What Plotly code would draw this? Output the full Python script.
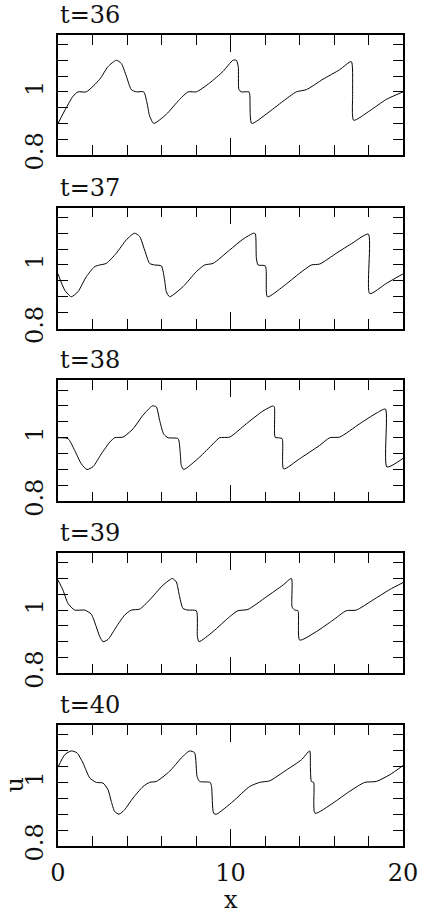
import plotly.graph_objects as go
from plotly.subplots import make_subplots

# snapshots of u(x), one pair of lists per time
times = [36, 37, 38, 39, 40]

x36 = [0, 0.48, 0.87, 1.16, 1.64, 2.42, 2.9, 3.38, 3.67, 3.96, 4.25, 4.54, 4.97, 5.16, 5.31, 5.55,
       6.28, 7.05, 7.54, 8.02, 8.79, 9.57, 10.14, 10.34, 10.45, 10.49, 10.63, 11.07, 11.12, 11.23,
       12.08, 13.04, 13.82, 14.4, 15.36, 16.33, 17.0, 17.08, 17.14, 18.07, 19.03, 20]
u36 = [0.9, 0.95, 0.986, 1.0, 1.0, 1.04, 1.08, 1.1, 1.09, 1.05, 1.007, 1.0, 1.0, 0.965, 0.924, 0.9,
       0.929, 0.976, 1.0, 1.0, 1.028, 1.065, 1.1, 1.1, 1.08, 1.007, 1.0, 1.0, 0.99, 0.9,
       0.93, 0.97, 1.0, 1.007, 1.04, 1.07, 1.096, 1.0, 0.91, 0.94, 0.976, 1.0]

x37 = [0, 0.39, 0.77, 1.16, 1.64, 2.13, 2.42, 2.8, 3.38, 3.96, 4.44, 4.73, 5.02, 5.31, 5.6, 5.99,
       6.18, 6.28, 6.47, 7.25, 8.02, 8.5, 8.99, 9.95, 10.72, 11.34, 11.44, 11.5, 11.6, 12.02, 12.14,
       13.04, 14.01, 14.69, 15.17, 16.14, 17.1, 17.99, 18.07, 19.03, 20]
u37 = [0.972, 0.921, 0.9, 0.916, 0.963, 0.995, 1.0, 1.005, 1.037, 1.079, 1.1, 1.09, 1.047, 1.005, 1.0, 0.997,
       0.953, 0.916, 0.9, 0.932, 0.979, 1.0, 1.005, 1.047, 1.081, 1.1, 1.098, 1.021, 1.0, 0.997, 0.9,
       0.932, 0.974, 1.0, 1.003, 1.037, 1.07, 1.097, 0.91, 0.942, 0.972]

x38 = [0, 0.58, 0.97, 1.35, 1.68, 2.03, 2.51, 3.0, 3.29, 3.77, 4.35, 4.93, 5.47, 5.7, 5.89, 6.13,
       6.38, 6.96, 7.09, 7.15, 7.29, 8.21, 8.99, 9.37, 9.95, 10.92, 11.88, 12.46, 12.54, 12.58, 12.7,
       12.99, 13.08, 14.01, 15.17, 15.75, 16.33, 17.49, 18.45, 18.98, 19.07, 20]
u38 = [1.0, 0.997, 0.96, 0.918, 0.9, 0.909, 0.949, 0.986, 1.0, 1.002, 1.028, 1.071, 1.1, 1.097, 1.055, 1.011,
       1.0, 0.997, 0.949, 0.912, 0.9, 0.939, 0.981, 1.0, 1.002, 1.044, 1.084, 1.1, 1.097, 1.002, 1.0,
       0.997, 0.902, 0.934, 0.976, 1.0, 1.002, 1.044, 1.077, 1.09, 0.908, 0.935]

x39 = [0, 0.29, 0.58, 0.97, 1.55, 1.93, 2.22, 2.42, 2.61, 2.9, 3.38, 3.86, 4.25, 4.73, 5.31, 6.09,
       6.63, 6.86, 7.05, 7.25, 7.54, 8.02, 8.08, 8.17, 8.99, 9.95, 10.43, 11.01, 12.08, 13.04, 13.53,
       13.57, 13.72, 13.91, 14.01, 14.98, 15.94, 16.71, 17.29, 18.26, 19.23, 20]
u39 = [1.095, 1.063, 1.021, 1.0, 1.0, 0.987, 0.947, 0.916, 0.9, 0.907, 0.947, 0.984, 1.0, 1.003, 1.032, 1.079,
       1.1, 1.089, 1.042, 1.005, 1.0, 0.998, 0.916, 0.9, 0.932, 0.979, 0.998, 1.002, 1.042, 1.079, 1.1,
       1.01, 1.0, 0.998, 0.905, 0.932, 0.968, 0.998, 1.0, 1.032, 1.065, 1.087]

x40 = [0, 0.39, 0.77, 1.1, 1.45, 1.84, 2.22, 2.61, 2.9, 3.09, 3.29, 3.54, 3.86, 4.35, 4.93, 5.31,
       5.7, 6.47, 7.15, 7.63, 7.92, 8.06, 8.21, 8.82, 8.9, 9.02, 9.18, 10.14, 11.11, 11.69, 12.27,
       13.24, 14.11, 14.59, 14.63, 14.69, 14.82, 14.9, 15.94, 16.91, 17.78, 18.45, 19.23, 20]
u40 = [1.048, 1.087, 1.099, 1.093, 1.061, 1.014, 1.0, 0.998, 0.977, 0.94, 0.908, 0.9, 0.914, 0.951, 0.987, 1.0,
       1.003, 1.035, 1.077, 1.099, 1.093, 1.019, 1.003, 1.0, 0.987, 0.903, 0.9, 0.94, 0.987, 1.0, 1.005,
       1.039, 1.071, 1.099, 1.05, 1.003, 1.0, 0.903, 0.935, 0.972, 1.0, 1.003, 1.024, 1.053]

xs = [x36, x37, x38, x39, x40]
us = [u36, u37, u38, u39, u40]

FONT = "DejaVu Serif"
TXT = dict(family=FONT, size=24, color='#111')

fig = make_subplots(rows=5, cols=1, shared_xaxes=False, vertical_spacing=0.064)

for i, (t, x, u) in enumerate(zip(times, xs, us)):
    fig.add_trace(go.Scatter(x=x, y=u, mode='lines',
                             line=dict(color='black', width=1, shape='spline', smoothing=0.6),
                             showlegend=False), row=i + 1, col=1)

domains = [(0.852, 1.0), (0.638, 0.787), (0.425, 0.574), (0.213, 0.361), (0.0, 0.149)]

for i, (t, dom) in enumerate(zip(times, domains)):
    last = i == len(times) - 1
    fig.update_xaxes(
        range=[0, 20], dtick=10, tick0=0, ticks='inside', ticklen=17, tickwidth=1,
        tickcolor='black', showline=True, linecolor='black', linewidth=1.5, mirror='ticks',
        showgrid=False, zeroline=False, showticklabels=last, automargin=False,
        tickfont=TXT, ticklabelstandoff=4,
        minor=dict(dtick=2, ticks='inside', ticklen=10, tickcolor='black', tickwidth=1),
        row=i + 1, col=1)
    fig.update_yaxes(
        domain=list(dom), range=[0.8, 1.18], tickvals=[0.8, 1.0], ticktext=['0.8', '1'],
        ticks='inside', ticklen=10, tickwidth=1, tickcolor='black', tickangle=-90,
        showline=True, linecolor='black', linewidth=1.5, mirror='ticks',
        showgrid=False, zeroline=False, automargin=False,
        tickfont=TXT, ticklabelstandoff=4,
        minor=dict(dtick=0.05, tick0=0.8, ticks='inside', ticklen=10, tickcolor='black', tickwidth=1),
        row=i + 1, col=1)
    fig.add_annotation(text=f"t={t}", xref='paper', yref='paper', x=0, y=dom[1],
                       xanchor='left', yanchor='bottom', xshift=0, yshift=4, showarrow=False,
                       font=TXT)

# axis names, placed as in the reference
fig.add_annotation(text="x", xref='paper', yref='paper', x=0.5, y=0, xanchor='center',
                   yanchor='middle', yshift=-54, showarrow=False, font=TXT)
fig.add_annotation(text="u", xref='paper', yref='paper', x=0, y=0.0745, xanchor='center',
                   yanchor='middle', xshift=-43, textangle=-90, showarrow=False, font=TXT)

fig.update_layout(
    width=423, height=914,
    margin=dict(l=58, r=20, t=35, b=68),
    plot_bgcolor='white', paper_bgcolor='white',
)

# drop the default page margin so the figure sits at the window's corner
fig.write_html("out.html", config={'displayModeBar': False},
               post_script="document.body.style.margin='0';")
